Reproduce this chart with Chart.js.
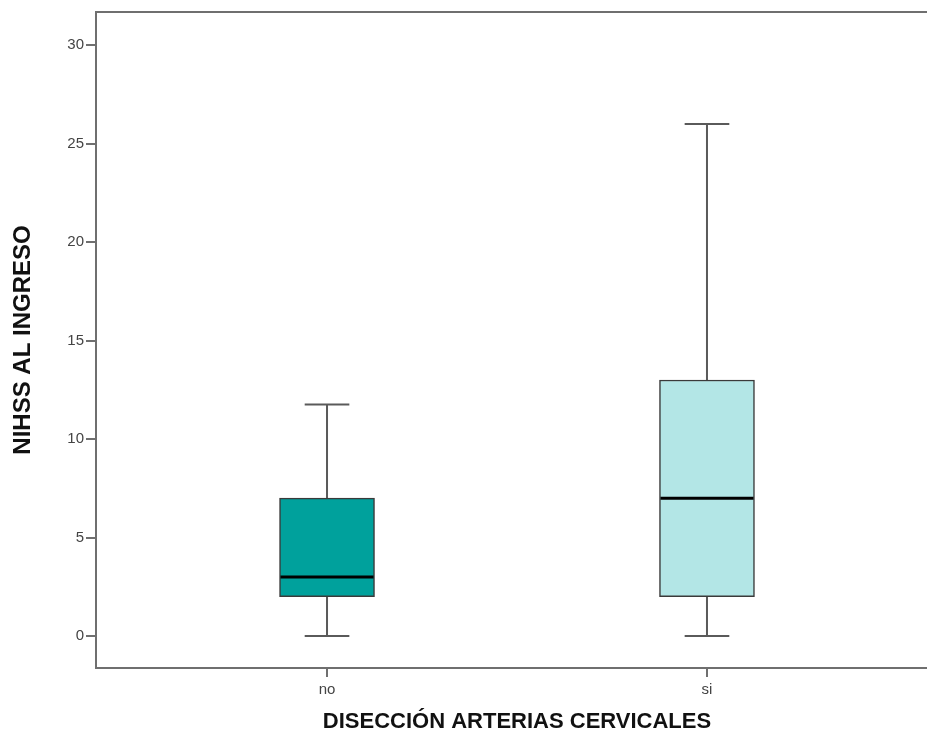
<!DOCTYPE html>
<html>
<head>
<meta charset="utf-8">
<script src="https://cdn.jsdelivr.net/npm/chart.js@4.4.1/dist/chart.umd.min.js"></script>
<style>
  html, body { margin: 0; padding: 0; background: #fff; overflow: hidden; }
  #wrap { width: 927px; height: 736px; overflow: hidden; position: relative; }
  #box { width: 945px; height: 736px; position: absolute; left: 0; top: 0; }
</style>
</head>
<body>
<div id="wrap"><div id="box"><canvas id="c"></canvas></div></div>
<script>
// ---- data ----
const categories   = ['no', 'si'];
const whiskerLow   = [0, 0];
const q1           = [2, 2];
const median       = [3, 7];
const q3           = [7, 13];
const whiskerHigh  = [11.75, 26];
const yTicks       = [0, 5, 10, 15, 20, 25, 30];
const boxColors    = ['#00A19C', '#B3E6E6'];

const FRAME = '#6f6f6f';

const boxPlugin = {
  id: 'boxParts',
  beforeDatasetsDraw(chart) {
    const { ctx, scales: { x, y } } = chart;
    const meta = chart.getDatasetMeta(0);
    ctx.save();
    ctx.strokeStyle = '#5a5a5a';
    ctx.lineWidth = 2;
    categories.forEach((c, i) => {
      const bar = meta.data[i];
      const cx = x.getPixelForValue(i);
      const capHalf = bar.width * 0.235;
      const yLo = y.getPixelForValue(whiskerLow[i]);
      const yHi = y.getPixelForValue(whiskerHigh[i]);
      const yQ1 = y.getPixelForValue(q1[i]);
      const yQ3 = y.getPixelForValue(q3[i]);
      ctx.beginPath();
      ctx.moveTo(cx, yLo); ctx.lineTo(cx, yQ1);
      ctx.moveTo(cx, yQ3); ctx.lineTo(cx, yHi);
      ctx.moveTo(cx - capHalf, yLo); ctx.lineTo(cx + capHalf, yLo);
      ctx.moveTo(cx - capHalf, yHi); ctx.lineTo(cx + capHalf, yHi);
      ctx.stroke();
    });
    ctx.restore();
  },
  afterDatasetsDraw(chart) {
    const { ctx, scales: { x, y } } = chart;
    const meta = chart.getDatasetMeta(0);
    ctx.save();
    ctx.strokeStyle = '#000';
    ctx.lineWidth = 3;
    categories.forEach((c, i) => {
      const bar = meta.data[i];
      const half = bar.width / 2;
      const cx = x.getPixelForValue(i);
      const ym = y.getPixelForValue(median[i]);
      ctx.beginPath();
      ctx.moveTo(cx - half + 1, ym); ctx.lineTo(cx + half - 1, ym);
      ctx.stroke();
    });
    ctx.restore();
  },
  afterDraw(chart) {
    const { ctx, chartArea: a } = chart;
    ctx.save();
    ctx.strokeStyle = FRAME;
    ctx.lineWidth = 2;
    ctx.strokeRect(a.left, a.top, a.right - a.left, a.bottom - a.top);
    ctx.restore();
  }
};

new Chart(document.getElementById('c'), {
  type: 'bar',
  data: {
    datasets: [{
      data: categories.map((c, i) => ({ x: i, y: [q1[i], q3[i]] })),
      backgroundColor: boxColors,
      borderColor: '#3a3a3a',
      borderWidth: 1.5,
      borderSkipped: false,
      barThickness: 95
    }]
  },
  options: {
    responsive: true,
    maintainAspectRatio: false,
    animation: false,
    events: [],
    layout: { padding: { top: 12, right: 7, left: 0, bottom: 0 } },
    plugins: { legend: { display: false }, tooltip: { enabled: false } },
    scales: {
      x: {
        type: 'linear',
        offset: false,
        min: -0.608,
        max: 1.608,
        afterBuildTicks(s) { s.ticks = categories.map((c, i) => ({ value: i })); },
        afterFit(s) { s.height = 68; },
        ticks: {
          callback: (v) => categories[v] !== undefined ? categories[v] : '',
          color: '#444',
          font: { family: 'Liberation Sans, Arial, sans-serif', size: 15 },
          padding: 4,
          autoSkip: false,
          maxRotation: 0
        },
        grid: { offset: false, drawOnChartArea: false, drawTicks: true, tickLength: 9, color: FRAME, lineWidth: 2 },
        border: { display: true, color: FRAME, width: 2 },
        title: {
          display: true,
          text: 'DISECCIÓN ARTERIAS CERVICALES',
          color: '#111',
          font: { family: 'Liberation Sans, Arial, sans-serif', size: 22, weight: 'bold', lineHeight: 1.2 },
          padding: { top: 0, bottom: 1 }
        }
      },
      y: {
        min: -1.62,
        max: 31.68,
        afterBuildTicks(s) { s.ticks = yTicks.map(v => ({ value: v })); },
        afterFit(s) { s.width = 96; },
        ticks: {
          color: '#444',
          font: { family: 'Liberation Sans, Arial, sans-serif', size: 15 },
          padding: 2
        },
        grid: { drawOnChartArea: false, drawTicks: true, tickLength: 10, color: FRAME, lineWidth: 2 },
        border: { display: true, color: FRAME, width: 2 },
        title: {
          display: true,
          text: 'NIHSS AL INGRESO',
          color: '#111',
          font: { family: 'Liberation Sans, Arial, sans-serif', size: 24, weight: 'bold', lineHeight: 1.2 },
          padding: { top: 9, bottom: 0 }
        }
      }
    }
  },
  plugins: [boxPlugin]
});
</script>
</body>
</html>
